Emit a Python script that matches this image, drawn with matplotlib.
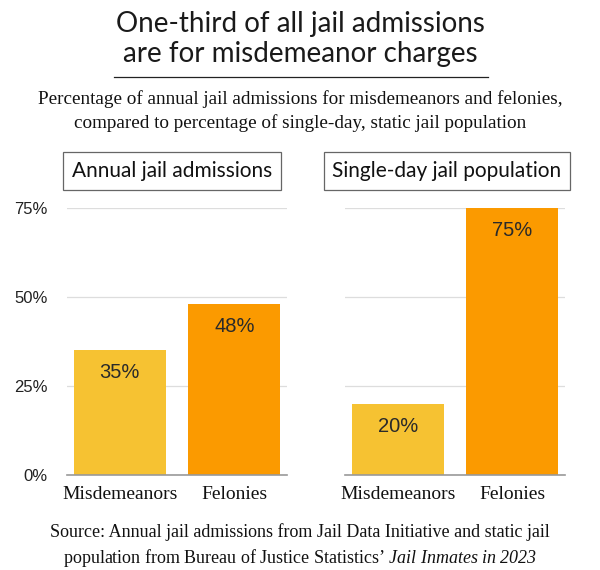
import matplotlib
matplotlib.use("Agg")
import matplotlib.pyplot as plt

plt.rcParams["mathtext.fontset"] = "custom"
plt.rcParams["mathtext.rm"] = "Liberation Serif:italic"
plt.rcParams["mathtext.it"] = "Liberation Serif:italic"

# data
categories = ["Misdemeanors", "Felonies"]
admissions = [35, 48]
population = [20, 75]
panel_titles = ["Annual jail admissions", "Single-day jail population"]
yticks = [0, 25, 50, 75]
ytick_labels = ["0%", "25%", "50%", "75%"]

colors = ["#F6C232", "#FB9A00"]

fig = plt.figure(figsize=(6, 5.7), dpi=100)

fig.text(0.5, 0.932, "One-third of all jail admissions\nare for misdemeanor charges",
         ha="center", va="center", fontsize=20, family="Lato",
         color="#1a1a1a", linespacing=1.2)
fig.add_artist(plt.Line2D([0.19, 0.813], [0.865, 0.865], color="#222222", lw=0.9))
fig.text(0.5, 0.805, "Percentage of annual jail admissions for misdemeanors and felonies,\n"
         "compared to percentage of single-day, static jail population",
         ha="center", va="center", fontsize=13.8, family="Liberation Serif",
         color="#111111", linespacing=1.5)

axes_pos = [[0.1117, 0.1667, 0.3667, 0.4684], [0.575, 0.1667, 0.3667, 0.4684]]
label_x = [0.287, 0.745]

for i, vals in enumerate([admissions, population]):
    ax = fig.add_axes(axes_pos[i])
    bars = ax.bar(range(len(categories)), vals, width=0.8, color=colors, zorder=2)
    ax.set_xlim(-0.46, 1.46)
    ax.set_ylim(0, 75)
    ax.set_yticks(yticks)
    if i == 0:
        ax.set_yticklabels(ytick_labels, family="Liberation Sans", fontsize=12,
                           color="#222222")
    else:
        ax.set_yticklabels([])
    ax.tick_params(axis="y", length=0, pad=14)
    ax.tick_params(axis="x", length=0, pad=8)
    ax.set_xticks(range(len(categories)))
    ax.set_xticklabels(categories, family="Liberation Serif", fontsize=14,
                       color="#111111")
    ax.grid(axis="y", color="#DDDDDD", lw=0.9, zorder=0)
    for s in ["top", "right", "left"]:
        ax.spines[s].set_visible(False)
    ax.spines["bottom"].set_color("#999999")
    ax.spines["bottom"].set_linewidth(1.2)
    ax.spines["bottom"].set_zorder(3)
    for b, v in zip(bars, vals):
        ax.text(b.get_x() + b.get_width() / 2, v - 6.3, f"{v}%", ha="center",
                va="center", fontsize=14.5, family="Liberation Sans", color="#2a2a2a")
    fig.text(label_x[i], 0.700, panel_titles[i], ha="center", va="center",
             fontsize=15, family="Lato", color="#111111",
             bbox=dict(boxstyle="square,pad=0.42", fc="white", ec="#666666", lw=0.9))

fig.text(0.5, 0.042, "Source: Annual jail admissions from Jail Data Initiative and static jail\n"
         "population from Bureau of Justice Statistics\u2019 $\\it{Jail\\ Inmates\\ in\\ 2023}$",
         ha="center", va="center", fontsize=13, family="Liberation Serif",
         color="#111111", linespacing=1.4)

fig.savefig("out.png", dpi=100)
